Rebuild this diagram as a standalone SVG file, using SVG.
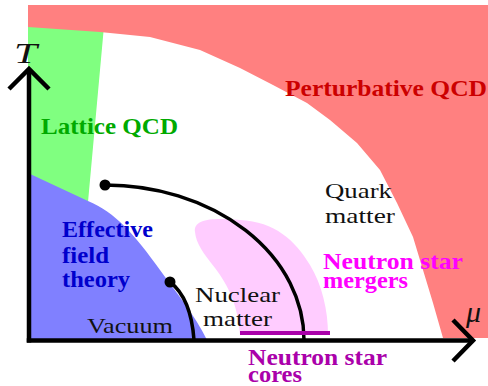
<svg xmlns="http://www.w3.org/2000/svg" width="488" height="386" viewBox="0 0 488 386">
<style>
text{font-family:'Liberation Serif','DejaVu Serif','Times New Roman',serif;font-size:22px;fill:#111}
.b{font-weight:bold;font-size:24px}
.ax{fill:none;stroke:#000;stroke-width:4.5;stroke-linecap:butt}
.crit{fill:none;stroke:#000;stroke-width:3.5}
</style>
<rect width="488" height="386" fill="#fff"/>
<g id="lattice-region">
<path d="M28,24 L104,26 L88,202 L28,175 Z" fill="#80ff80"/>
</g>
<g id="pqcd-region">
<path d="M28,5 H488 V338 H443 L433,303 L423,270 L413,237 L397,203 L380,170 L357,143 L330,120 L307,103 L273,85 L240,68 L200,50 L150,37 L100,32 L28,27 Z" fill="#ff8080"/>
</g>
<g id="eft-region">
<path d="M28,173 L88,201 C115,212 135,235 160,270 C175,291 195,315 207,340 H28 Z" fill="#8080ff"/>
</g>
<g id="mergers-region">
<path d="M195,232 C193,218 215,218 240,220 C275,222 295,240 310,265 C322,285 328,310 328,335 L240,335 C238,305 228,285 215,268 C203,253 196,243 195,232 Z" fill="#ffccff"/>
</g>
<g id="connectors">
<path class="crit" d="M105,185 A199,155 0 0 1 304,340"/>
<circle cx="105" cy="185" r="5.5" fill="#000"/>
<path class="crit" d="M170,282 C183,292 192,312 194,340"/>
<circle cx="170" cy="282" r="5.5" fill="#000"/>
<line x1="240" y1="333" x2="330" y2="333" stroke="#aa00aa" stroke-width="4"/>
<line class="ax" x1="29" y1="72" x2="29" y2="342.5"/>
<line class="ax" x1="26.75" y1="340.5" x2="470" y2="340.5"/>
<polyline class="ax" points="9,89 29,69 49,89"/>
<polyline class="ax" points="453,320 473,340.5 453,361"/>
</g>
<g id="axis-labels" font-family="Liberation Serif, serif">
<text x="14" y="63" style="font-size:30px;font-style:italic" textLength="23" lengthAdjust="spacingAndGlyphs">T</text>
<text x="466" y="322" style="font-size:30px;font-style:italic">μ</text>
</g>
<g id="pqcd"><text class="b" x="285" y="96" style="fill:#cc0000" textLength="202" lengthAdjust="spacingAndGlyphs">Perturbative QCD</text></g>
<g id="lattice"><text class="b" x="41" y="134" style="fill:#00aa00" textLength="137" lengthAdjust="spacingAndGlyphs">Lattice QCD</text></g>
<g id="eft">
<text class="b" x="62" y="237" style="fill:#0000cc" textLength="91" lengthAdjust="spacingAndGlyphs">Effective</text>
<text class="b" x="62" y="263" style="fill:#0000cc" textLength="47" lengthAdjust="spacingAndGlyphs">field</text>
<text class="b" x="62" y="287" style="fill:#0000cc" textLength="68" lengthAdjust="spacingAndGlyphs">theory</text>
</g>
<g id="vacuum"><text x="87" y="333" textLength="86" lengthAdjust="spacingAndGlyphs">Vacuum</text></g>
<g id="nuclear">
<text x="195" y="302" textLength="85" lengthAdjust="spacingAndGlyphs">Nuclear</text>
<text x="203" y="326" textLength="69" lengthAdjust="spacingAndGlyphs">matter</text>
</g>
<g id="quark">
<text x="325" y="198" textLength="67" lengthAdjust="spacingAndGlyphs">Quark</text>
<text x="325" y="223" textLength="70" lengthAdjust="spacingAndGlyphs">matter</text>
</g>
<g id="mergers">
<text class="b" x="323" y="269" style="fill:#ff00ff;font-size:23px" textLength="140" lengthAdjust="spacingAndGlyphs">Neutron star</text>
<text class="b" x="323" y="288" style="fill:#ff00ff;font-size:23px" textLength="85" lengthAdjust="spacingAndGlyphs">mergers</text>
</g>
<g id="cores">
<text class="b" x="248" y="365" style="fill:#aa00aa;font-size:23px" textLength="139" lengthAdjust="spacingAndGlyphs">Neutron star</text>
<text class="b" x="248" y="382" style="fill:#aa00aa;font-size:23px" textLength="54" lengthAdjust="spacingAndGlyphs">cores</text>
</g>
</svg>
